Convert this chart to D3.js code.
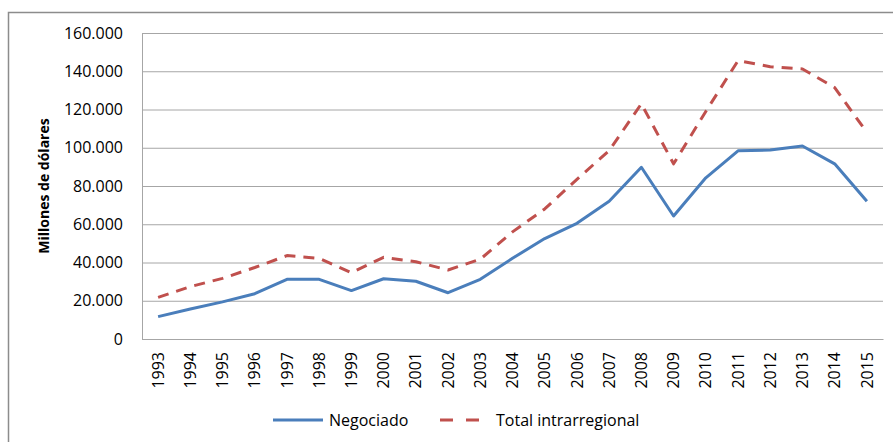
<!DOCTYPE html>
<html lang="es">
<head>
<meta charset="utf-8">
<script src="https://cdn.jsdelivr.net/npm/d3@7"></script>
<style>
  html, body { margin: 0; padding: 0; background: #fff; }
  svg { display: block; font-family: "Open Sans", "Noto Sans", sans-serif; }
</style>
</head>
<body>
<div id="chart"></div>
<script>
// Comercio intrarregional: negociado vs total, millones de dólares

const years = [
  "1993", "1994", "1995", "1996", "1997", "1998", "1999", "2000", "2001", "2002", "2003", "2004",
  "2005", "2006", "2007", "2008", "2009", "2010", "2011", "2012", "2013", "2014", "2015"
];

const negociado = [
  11700, 15700, 19400, 23700, 31200, 31200, 25300, 31500, 30200, 24200, 31200, 42200,
  52500, 60500, 72000, 89800, 64300, 84300, 98400, 98800, 100900, 91600, 72000
];

const totalIntrarregional = [
  21800, 27400, 31700, 37400, 43600, 42200, 34700, 42700, 40400, 36100, 41700, 56000,
  68000, 83500, 98500, 123000, 91600, 119000, 145500, 142400, 141200, 131500, 108000
];

const yTicks = [0, 20000, 40000, 60000, 80000, 100000, 120000, 140000, 160000];

const series = [
  { name: "Negociado",           values: negociado,           color: "#4a7ebb", dash: null },
  { name: "Total intrarregional", values: totalIntrarregional, color: "#c0504d", dash: "11,8" },
];

const W = 893, H = 442;
const plot = { left: 142, right: 883, top: 33, bottom: 339 };

// thousands separated by a dot, as in the original
const esLocale = d3.formatLocale({ decimal: ",", thousands: ".", grouping: [3], currency: ["", ""] });
const fmt = esLocale.format(",d");

const svg = d3.select("#chart").append("svg")
  .attr("width", W)
  .attr("height", H);

// outer chart frame (cut on the right and bottom)
svg.append("path")
  .attr("d", `M8.5,${H + 2}V12.5H${W + 2}`)
  .attr("fill", "none")
  .attr("stroke", "#8c8c8c")
  .attr("stroke-width", 1.5);

const x = d3.scaleBand()
  .domain(years)
  .range([plot.left, plot.right]);

const y = d3.scaleLinear()
  .domain([0, 160000])
  .range([plot.bottom, plot.top]);

// gridlines + y labels
const yAxis = svg.append("g")
  .attr("transform", `translate(${plot.left},0)`)
  .call(d3.axisLeft(y)
    .tickValues(yTicks)
    .tickFormat(fmt)
    .tickSize(-(plot.right - plot.left))
    .tickPadding(19));

yAxis.select(".domain").attr("stroke", "#a6a6a6");
yAxis.selectAll(".tick line").attr("stroke", "#a6a6a6").attr("stroke-width", 1);
yAxis.selectAll(".tick text")
  .attr("fill", "#000")
  .attr("font-size", "16px")
  .attr("font-family", "'Open Sans', sans-serif");

// x axis with rotated years
const xAxis = svg.append("g")
  .attr("transform", `translate(0,${plot.bottom})`)
  .call(d3.axisBottom(x).tickSize(0).tickPadding(0));

xAxis.select(".domain").attr("stroke", "#a6a6a6");
xAxis.selectAll(".tick text")
  .attr("fill", "#000")
  .attr("font-size", "16px")
  .attr("font-family", "'Open Sans', sans-serif")
  .attr("text-anchor", "end")
  .attr("transform", "translate(0,13) rotate(-90)")
  .attr("x", 0)
  .attr("y", 0)
  .attr("dy", "0.35em");

// y axis title
svg.append("text")
  .attr("transform", `translate(44,${(plot.top + plot.bottom) / 2}) rotate(-90)`)
  .attr("text-anchor", "middle")
  .attr("dy", "0.35em")
  .attr("font-size", "14px")
  .attr("font-weight", "bold")
  .attr("fill", "#000")
  .text("Millones de dólares");

// lines
const line = d3.line()
  .x((d, i) => x(years[i]) + x.bandwidth() / 2)
  .y(d => y(d));

series.forEach(s => {
  svg.append("path")
    .datum(s.values)
    .attr("d", line)
    .attr("fill", "none")
    .attr("stroke", s.color)
    .attr("stroke-width", 3)
    .attr("stroke-linejoin", "round")
    .attr("stroke-dasharray", s.dash);
});

// legend
const legend = svg.append("g").attr("transform", "translate(273,420)");
const legendX = [0, 167];

series.forEach((s, i) => {
  const g = legend.append("g").attr("transform", `translate(${legendX[i]},0)`);
  g.append("line")
    .attr("x1", 0).attr("x2", s.dash ? 40 : 50)
    .attr("y1", 0).attr("y2", 0)
    .attr("stroke", s.color)
    .attr("stroke-width", 3)
    .attr("stroke-dasharray", s.dash ? "13,13" : null);
  g.append("text")
    .attr("x", s.dash ? 56 : 56)
    .attr("dy", "0.35em")
    .attr("font-size", "16px")
    .attr("fill", "#000")
    .text(s.name);
});
</script>
</body>
</html>
